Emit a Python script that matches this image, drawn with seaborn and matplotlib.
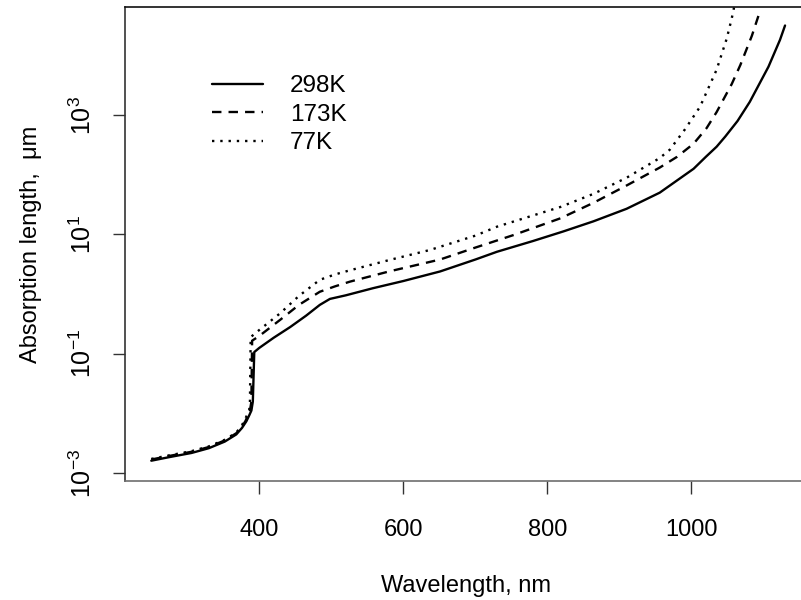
import numpy as np
import pandas as pd
import matplotlib
matplotlib.use("Agg")
import matplotlib.pyplot as plt
import seaborn as sns

# ---- data (log10 of absorption length in um) ----
series_names = ["298K", "173K", "77K"]

wl_298 = [250, 275, 306, 330, 352, 368, 376, 382, 386, 389, 391, 393, 400, 420, 443, 465,
          484, 498, 520, 558, 600, 651, 700, 730, 780, 822, 864, 910, 956, 1003, 1020, 1035,
          1047, 1064, 1081, 1107, 1123, 1130]
log10_len_298 = [-2.79, -2.73, -2.66, -2.58, -2.47, -2.35, -2.24, -2.13, -2.03, -1.95, -1.80,
                 -0.97, -0.90, -0.73, -0.55, -0.36, -0.18, -0.08, -0.02, 0.10, 0.22, 0.38,
                 0.58, 0.71, 0.89, 1.05, 1.22, 1.43, 1.70, 2.10, 2.30, 2.47, 2.64, 2.90, 3.22,
                 3.81, 4.26, 4.50]

wl_173 = [250, 275, 306, 330, 352, 368, 376, 381, 384, 387, 389, 390, 400, 429, 455, 484,
          505, 526, 580, 651, 700, 753, 818, 864, 910, 956, 980, 1003, 1021, 1035, 1056,
          1068, 1084, 1093]
log10_len_173 = [-2.77, -2.71, -2.64, -2.56, -2.45, -2.33, -2.22, -2.12, -2.03, -1.95, -1.80,
                 -0.78, -0.70, -0.43, -0.18, 0.04, 0.13, 0.21, 0.38, 0.58, 0.78, 0.99, 1.27,
                 1.53, 1.82, 2.12, 2.30, 2.52, 2.78, 3.05, 3.52, 3.84, 4.33, 4.66]

wl_77 = [250, 275, 306, 330, 352, 368, 375, 380, 383, 386, 387, 388, 400, 429, 455, 484,
         505, 526, 580, 637, 700, 730, 818, 864, 910, 956, 970, 991, 1012, 1035, 1049, 1056,
         1060]
log10_len_77 = [-2.76, -2.70, -2.63, -2.55, -2.44, -2.32, -2.21, -2.11, -2.02, -1.94, -1.80,
                -0.72, -0.60, -0.32, -0.03, 0.24, 0.33, 0.40, 0.57, 0.74, 0.98, 1.13, 1.46,
                1.68, 1.95, 2.28, 2.42, 2.76, 3.14, 3.76, 4.28, 4.62, 4.85]

x_ticks = [400, 600, 800, 1000]
y_ticks = [1e-3, 1e-1, 1e1, 1e3]
y_tick_labels = [r"$\mathregular{10^{-3}}$", r"$\mathregular{10^{-1}}$",
                 r"$\mathregular{10^{1}}$", r"$\mathregular{10^{3}}$"]

frames = []
for name, wl, lg in [("298K", wl_298, log10_len_298),
                     ("173K", wl_173, log10_len_173),
                     ("77K", wl_77, log10_len_77)]:
    frames.append(pd.DataFrame({"wavelength": wl,
                                "length": np.power(10.0, lg),
                                "series": name}))
df = pd.concat(frames, ignore_index=True)

# ---- style ----
sns.set_style("white")
plt.rcParams["font.family"] = ["Liberation Sans", "DejaVu Sans"]
plt.rcParams["mathtext.fontset"] = "custom"
plt.rcParams["mathtext.rm"] = "Liberation Sans"
plt.rcParams["mathtext.it"] = "Liberation Sans:italic"
plt.rcParams["mathtext.bf"] = "Liberation Sans:bold"
for key in ["text.color", "axes.labelcolor", "xtick.color", "ytick.color"]:
    plt.rcParams[key] = "black"

fig = plt.figure(figsize=(8.01, 6.0), dpi=100)
ax = fig.add_axes([125 / 801, 1 - 481 / 600, 0.851, (481 - 7) / 600])

sns.lineplot(data=df, x="wavelength", y="length", style="series",
             style_order=series_names,
             dashes={"298K": "", "173K": (4, 3), "77K": (1, 2.5)},
             color="black", linewidth=1.7, sort=False, estimator=None,
             legend=False, ax=ax)

ax.set_yscale("log")
ax.set_xlim(213.5, 1160)
ax.set_ylim(10 ** -3.13, 10 ** 4.81)
ax.minorticks_off()

ax.set_xticks(x_ticks)
ax.set_xticklabels([str(v) for v in x_ticks], fontsize=17)
ax.set_yticks(y_ticks)
ax.set_yticklabels(y_tick_labels, fontsize=18, rotation=90, va="center")

ax.tick_params(axis="both", which="major", direction="out", length=9, width=1,
               color="#333333", bottom=True, left=True)
ax.tick_params(axis="x", pad=18)
ax.tick_params(axis="y", pad=12)

for side in ["left", "bottom", "top", "right"]:
    ax.spines[side].set_visible(True)
    ax.spines[side].set_linewidth(1.2)
ax.spines["left"].set_color("#333333")
ax.spines["bottom"].set_color("#6e6e6e")
ax.spines["top"].set_color("#111111")
ax.spines["right"].set_color("#111111")

ax.set_xlabel("Wavelength, nm", fontsize=17, labelpad=25)
ax.set_ylabel("Absorption length,  \u03bcm", fontsize=17, labelpad=20)

handles = ax.get_lines()[:3]
leg = ax.legend(handles, series_names, loc="upper left",
                bbox_to_anchor=(212 / 801, 1 - 75 / 600),
                bbox_transform=fig.transFigure, frameon=False, fontsize=17.5,
                handlelength=2.1, handletextpad=1.1, labelspacing=0.27,
                borderpad=0, borderaxespad=0)

fig.savefig("out.png", dpi=100, facecolor="white")
